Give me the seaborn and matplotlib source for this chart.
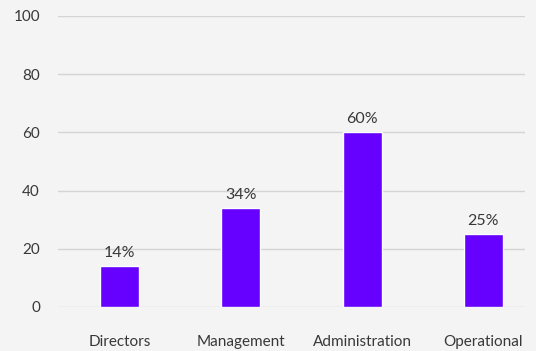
import matplotlib
matplotlib.use("Agg")
import matplotlib.pyplot as plt
import seaborn as sns
import pandas as pd

categories = ["Directors", "Management", "Administration", "Operational"]
values = [14, 34, 60, 25]
labels = ["14%", "34%", "60%", "25%"]
yticks = [0, 20, 40, 60, 80, 100]

sns.set_theme(style="white")
plt.rcParams['font.family'] = ['Lato', 'DejaVu Sans']

bg = "#f4f4f4"
fig = plt.figure(figsize=(5.36, 3.51), dpi=100, facecolor=bg)
ax = fig.add_axes([58/536, (351-307)/351, (525-58)/536, (307-16)/351])
ax.set_facecolor(bg)

df = pd.DataFrame({"cat": categories, "val": values})
sns.barplot(data=df, x="cat", y="val", color="#6600ff", saturation=1, width=0.32, ax=ax, zorder=3)

for p, lab in zip(ax.patches, labels):
    ax.annotate(lab, (p.get_x() + p.get_width()/2, p.get_height()), xytext=(0, 4.5),
                textcoords="offset points", ha="center", va="bottom", fontsize=11.5, color="#383838")

ax.set_ylim(0, 100)
ax.set_xlim(-0.507, 3.343)
ax.set_yticks(yticks)
ax.yaxis.grid(True, color="#d4d4d4", linewidth=1)
ax.set_axisbelow(True)
for s in ax.spines.values():
    s.set_visible(False)
ax.tick_params(axis="y", length=0, pad=13, labelsize=11, labelcolor="#383838")
ax.tick_params(axis="x", length=0, pad=20, labelsize=11, labelcolor="#383838")
ax.set_xlabel("")
ax.set_ylabel("")

fig.savefig("out.png", dpi=100, facecolor=bg)
